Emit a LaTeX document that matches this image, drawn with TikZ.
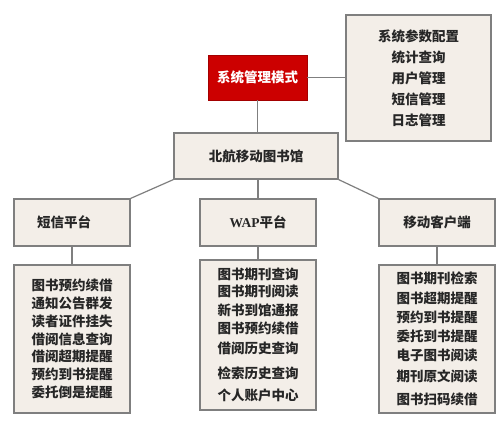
\documentclass[tikz,border=0pt]{standalone}
\usepackage{fontspec}
\newfontfamily\cjk{Noto Sans CJK SC}
\newfontfamily\tms{Liberation Serif}
\usetikzlibrary{shadows}
\definecolor{boxfill}{HTML}{F3EEE8}
\definecolor{boxline}{HTML}{7F7F7F}
\definecolor{redfill}{HTML}{CC0000}
\tikzset{
  x=1pt, y=-1pt,
  box/.style={draw=boxline, fill=boxfill, line width=1.1pt, inner sep=0pt, align=center,
    font=\cjk\bfseries\fontsize{13.5}{18}\selectfont, text=black!85,
    drop shadow={shadow xshift=1pt, shadow yshift=-1pt, fill=black!45, opacity=0.6}},
  redbox/.style={fill=redfill, draw=redfill!80!black, inner sep=0pt, align=center,
    font=\cjk\bfseries\fontsize{13.5}{18}\selectfont, text=white},
  link/.style={draw=boxline, line width=1.2pt}
}
\begin{document}
\begin{tikzpicture}
\useasboundingbox (0,0) rectangle (500,420);
\fill[white] (0,0) rectangle (500,420);
% top level
\node[redbox, minimum width=99pt, minimum height=45pt] (red) at (257.5,77.5) {系统管理模式};
\node[box, minimum width=145pt, minimum height=126pt, font=\cjk\bfseries\fontsize{13.5}{21}\selectfont] (adm) at (418.5,78)
  {系统参数配置\\统计查询\\用户管理\\短信管理\\日志管理};
\node[box, minimum width=164pt, minimum height=46pt] (lib) at (256,156) {北航移动图书馆};
% second level
\node[box, minimum width=116pt, minimum height=47pt] (sms) at (72,222.5) {\hspace*{-16pt}短信平台};
\node[box, minimum width=116pt, minimum height=47pt] (wap) at (258,222.5) {{\tms\bfseries WAP}平台};
\node[box, minimum width=116pt, minimum height=47pt] (mob) at (437,222.5) {移动客户端};
% lists
\node[box, minimum width=116pt, minimum height=148pt, font=\cjk\bfseries\fontsize{13.5}{17.8}\selectfont] (smsl) at (72,339)
  {图书预约续借\\通知公告群发\\读者证件挂失\\借阅信息查询\\借阅超期提醒\\预约到书提醒\\委托倒是提醒};
\node[box, minimum width=116pt, minimum height=150pt] (wapl) at (258,335)
  {图书期刊查询\\[-1pt]图书期刊阅读\\[1pt]新书到馆通报\\[0pt]图书预约续借\\[2pt]借阅历史查询\\[7pt]检索历史查询\\[4pt]个人账户中心};
\node[box, minimum width=116pt, minimum height=148pt, font=\cjk\bfseries\fontsize{13.5}{19}\selectfont] (mobl) at (437,339)
  {图书期刊检索\\[1pt]图书超期提醒\\预约到书提醒\\委托到书提醒\\电子图书阅读\\[2pt]期刊原文阅读\\[4pt]图书扫码续借};
% connectors
\draw[link] (red.east) -- (red.east -| adm.west);
\draw[link] (red.south) -- (red.south |- lib.north);
\draw[link] (lib.south west) -- (sms.north east);
\draw[link] (lib.south east) -- (mob.north west);
\draw[link] (wap.north) -- (wap.north |- lib.south);
\draw[link] (sms.south) -- (smsl.north);
\draw[link] (wap.south) -- (wapl.north);
\draw[link] (mob.south) -- (mobl.north);
\end{tikzpicture}
\end{document}
